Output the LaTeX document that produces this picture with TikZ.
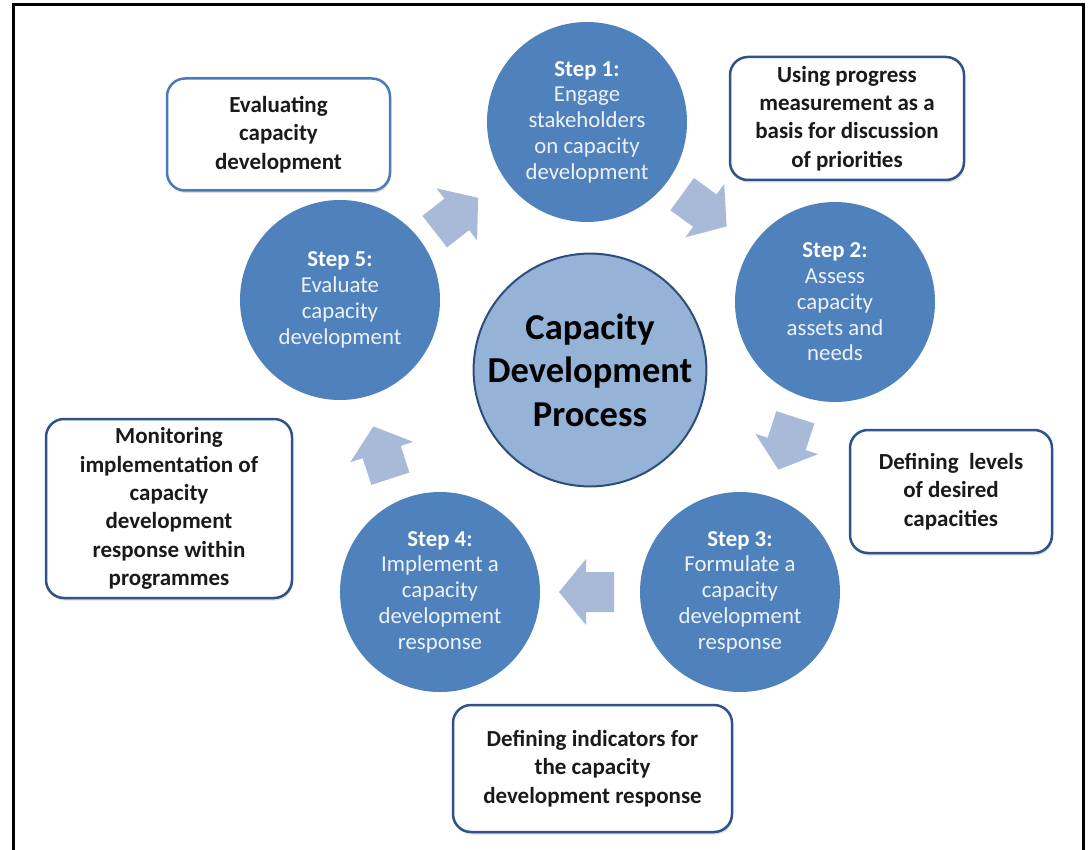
\documentclass[tikz,border=0pt]{standalone}
\usepackage{fontspec}
\setmainfont{Carlito}
\usetikzlibrary{shadows}
\definecolor{stepblue}{HTML}{4F81BD}
\definecolor{centerfill}{HTML}{95B3D7}
\definecolor{centerline}{HTML}{2E4D7B}
\definecolor{boxline}{HTML}{2F5288}
\definecolor{boxlinelight}{HTML}{4A7AB8}
\definecolor{arrowc}{HTML}{A9BAD9}
\definecolor{steptext}{HTML}{EEF2F8}
\definecolor{boxtext}{HTML}{1A1A1A}
\newcommand\blkarrow[3]{\fill[arrowc, shift={(#1,#2)}, rotate=#3] (-27,-20) -- (1,-20) -- (1,-33) -- (28,0) -- (1,33) -- (1,20) -- (-27,20) -- cycle;}
\begin{document}
\begin{tikzpicture}[x=1pt,y=-1pt,
  stepcircle/.style={circle, fill=stepblue, draw=none, minimum size=200pt, inner sep=0pt,
    align=center, text=steptext, font=\fontsize{22.8}{25.8}\selectfont},
  centercircle/.style={circle, fill=centerfill, draw=centerline, line width=2pt,
    minimum size=226pt, inner sep=0pt, align=center, text=black,
    font=\bfseries\fontsize{36.5}{43.5}\selectfont},
  infobox/.style={draw=boxline, line width=2.5pt, rounded corners=18pt, fill=white,
    align=center, text=boxtext, inner sep=0pt,
    font=\bfseries\fontsize{23}{28.3}\selectfont,
    drop shadow={shadow xshift=1pt, shadow yshift=-2.5pt, opacity=0.25}},
  frame/.style={line width=3pt, draw=black}
]
\useasboundingbox (0,0) rectangle (1089,850);
\fill[white] (0,0) rectangle (1089,850);
\draw[frame] (13,850) -- (13,5) -- (1083,5) -- (1083,850);

% block arrows
\blkarrow{456}{215}{38}
\blkarrow{704}{210}{-36}
\blkarrow{787}{443}{-108}
\blkarrow{587}{592}{180}
\blkarrow{382}{453}{108}

% step circles
\node[stepcircle] (s1) at (587,122) {\textbf{\color{white}Step 1:}\\Engage\\stakeholders\\on capacity\\development};
\node[stepcircle] (s2) at (835,302) {\textbf{\color{white}Step 2:}\\Assess\\capacity\\assets and\\needs};
\node[stepcircle] (s3) at (740,592) {\textbf{\color{white}Step 3:}\\Formulate a\\capacity\\development\\response};
\node[stepcircle] (s4) at (440,592) {\textbf{\color{white}Step 4:}\\Implement a\\capacity\\development\\response};
\node[stepcircle] (s5) at (340,300) {\textbf{\color{white}Step 5:}\\Evaluate\\capacity\\development};

% centre
\node[centercircle] (c) at (590,370) {Capacity\\Development\\Process};

% info boxes
\node[infobox, draw=boxlinelight, minimum width=223pt, minimum height=112pt] (b5) at (278.5,134.5) {Evaluating\\capacity\\development};
\node[infobox, minimum width=234pt, minimum height=123pt] (b1) at (847,118.5) {Using progress\\measurement as a\\basis for discussion\\of priorities};
\node[infobox, minimum width=202pt, minimum height=123pt] (b2) at (951,491.5) {Defining\ \ levels\\of desired\\capacities};
\node[infobox, minimum width=246pt, minimum height=179pt] (b4) at (169,508.5) {Monitoring\\implementation of\\capacity\\development\\response within\\programmes};
\node[infobox, minimum width=279pt, minimum height=127pt] (b3) at (592.5,768.5) {Defining indicators for\\the capacity\\development response};
\end{tikzpicture}
\end{document}
